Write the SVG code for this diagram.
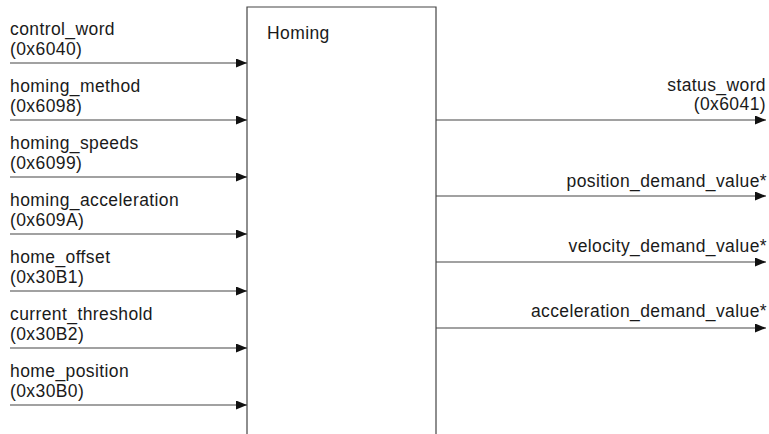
<svg xmlns="http://www.w3.org/2000/svg" width="769" height="434" viewBox="0 0 769 434">
  <style>
    text { font-family: "Liberation Sans", Arial, sans-serif; font-size: 17.5px; letter-spacing: 0.4px; fill: #1a1a1a; }
    .r { text-anchor: end; }
    .wire { stroke: #444; stroke-width: 1.2; fill: none; }
    .box { stroke: #444; stroke-width: 1.2; fill: #fff; }
  </style>
  <defs>
    <marker id="arrow" markerWidth="11" markerHeight="9" refX="11" refY="4.5" orient="auto" markerUnits="userSpaceOnUse">
      <path d="M0,0 L11,4.5 L0,9 Z" fill="#111"/>
    </marker>
  </defs>

  <rect width="769" height="434" fill="#fff"/>

  <!-- Homing block (open at the bottom edge) -->
  <g id="homing">
    <path class="box" d="M247,434 V7 H436 V434"/>
    <text x="267" y="39">Homing</text>
  </g>

  <!-- input objects -->
  <g id="in-control-word">
    <text x="10" y="35">control_word</text>
    <text x="10" y="55">(0x6040)</text>
  </g>
  <g id="in-homing-method">
    <text x="10" y="92">homing_method</text>
    <text x="10" y="112">(0x6098)</text>
  </g>
  <g id="in-homing-speeds">
    <text x="10" y="149">homing_speeds</text>
    <text x="10" y="169">(0x6099)</text>
  </g>
  <g id="in-homing-acceleration">
    <text x="10" y="206">homing_acceleration</text>
    <text x="10" y="226">(0x609A)</text>
  </g>
  <g id="in-home-offset">
    <text x="10" y="263">home_offset</text>
    <text x="10" y="283">(0x30B1)</text>
  </g>
  <g id="in-current-threshold">
    <text x="10" y="320">current_threshold</text>
    <text x="10" y="340">(0x30B2)</text>
  </g>
  <g id="in-home-position">
    <text x="10" y="377">home_position</text>
    <text x="10" y="397">(0x30B0)</text>
  </g>

  <!-- output objects -->
  <g id="out-status-word">
    <text class="r" x="766" y="91">status_word</text>
    <text class="r" x="766" y="110">(0x6041)</text>
  </g>
  <g id="out-position-demand">
    <text class="r" x="767" y="187">position_demand_value*</text>
  </g>
  <g id="out-velocity-demand">
    <text class="r" x="767" y="252">velocity_demand_value*</text>
  </g>
  <g id="out-acceleration-demand">
    <text class="r" x="767" y="317">acceleration_demand_value*</text>
  </g>

  <!-- connectors -->
  <g id="connectors" class="wire">
    <line x1="10" y1="63" x2="247" y2="63" marker-end="url(#arrow)"/>
    <line x1="10" y1="120" x2="247" y2="120" marker-end="url(#arrow)"/>
    <line x1="10" y1="177" x2="247" y2="177" marker-end="url(#arrow)"/>
    <line x1="10" y1="234" x2="247" y2="234" marker-end="url(#arrow)"/>
    <line x1="10" y1="291" x2="247" y2="291" marker-end="url(#arrow)"/>
    <line x1="10" y1="348" x2="247" y2="348" marker-end="url(#arrow)"/>
    <line x1="10" y1="405" x2="247" y2="405" marker-end="url(#arrow)"/>
    <line x1="436" y1="120" x2="766" y2="120" marker-end="url(#arrow)"/>
    <line x1="436" y1="196" x2="766" y2="196" marker-end="url(#arrow)"/>
    <line x1="436" y1="262" x2="766" y2="262" marker-end="url(#arrow)"/>
    <line x1="436" y1="328" x2="766" y2="328" marker-end="url(#arrow)"/>
  </g>
</svg>
